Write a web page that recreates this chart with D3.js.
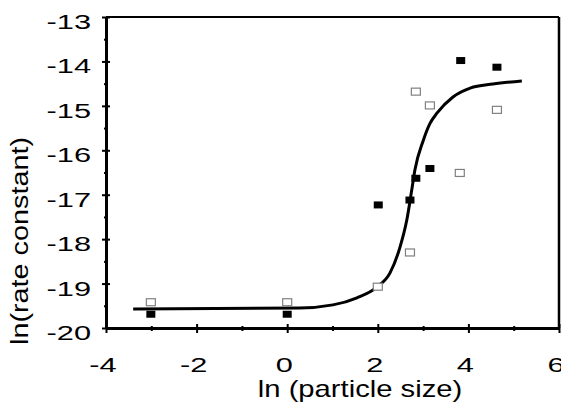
<!DOCTYPE html>
<html>
<head>
<meta charset="utf-8">
<script src="https://cdn.jsdelivr.net/npm/d3@7"></script>
<style>
  body { margin: 0; background: #fff; }
  svg { display: block; font-family: "Liberation Sans", Arial, sans-serif; }
</style>
</head>
<body>
<svg id="chart"></svg>
<script>
// measured series (ln particle size vs ln rate constant)
const filledX = [-3.01, 0.0, 2.01, 2.71, 2.84, 3.15, 3.83, 4.63];
const filledY = [-19.69, -19.69, -17.23, -17.12, -16.63, -16.41, -13.98, -14.13];
const openX = [-3.01, 0.0, 2.0, 2.71, 2.84, 3.15, 3.81, 4.63];
const openY = [-19.42, -19.42, -19.07, -18.30, -14.68, -14.99, -16.51, -15.09];

// fitted curve
const curveX = [-3.40, 0.28, 1.01, 1.54, 1.98, 2.27, 2.49, 2.64, 2.75, 2.82, 3.00, 3.15, 3.31, 3.66, 4.04, 4.54, 5.18];
const curveY = [-19.57, -19.55, -19.48, -19.32, -19.08, -18.76, -18.18, -17.57, -16.89, -16.44, -15.79, -15.40, -15.16, -14.80, -14.60, -14.51, -14.44];

const xTicks = [-4, -2, 0, 2, 4, 6];
const xMinor = [-3, -1, 1, 3, 5];
const yTicks = [-20, -19, -18, -17, -16, -15, -14, -13];
const yMinor = [-19.5, -18.5, -17.5, -16.5, -15.5, -14.5, -13.5];

const chartSize = { width: 561, height: 402 };
const margin = { left: 106, right: 2, top: 17, bottom: 74 };
const width = chartSize.width - margin.left - margin.right;
const height = chartSize.height - margin.top - margin.bottom;

const svg = d3.select('#chart')
    .attr('width', chartSize.width)
    .attr('height', chartSize.height);

const g = svg.append('g')
    .attr('transform', `translate(${margin.left},${margin.top})`);

const x = d3.scaleLinear().domain([-4, 6]).range([0, width]);
const y = d3.scaleLinear().domain([-20, -13]).range([height, 0]);

// frame: top and right
g.append('line').attr('x1', 0).attr('x2', width).attr('y1', 0).attr('y2', 0)
    .attr('stroke', '#000').attr('stroke-width', 2);
g.append('line').attr('x1', width).attr('x2', width).attr('y1', 0).attr('y2', height)
    .attr('stroke', '#000').attr('stroke-width', 2.5);

// minor ticks
g.append('g').attr('class', 'y-minor')
    .call(d3.axisLeft(y).tickValues(yMinor).tickSize(0).tickFormat(''))
    .call(a => a.select('.domain').remove())
    .selectAll('.tick line').attr('x1', -2).attr('x2', 2).attr('stroke-width', 2);
g.append('g').attr('class', 'x-minor')
    .attr('transform', `translate(0,${height})`)
    .call(d3.axisBottom(x).tickValues(xMinor).tickSize(0).tickFormat(''))
    .call(a => a.select('.domain').remove())
    .selectAll('.tick line').attr('y1', -2).attr('y2', 3).attr('stroke-width', 2);

// major axes
const yAxis = g.append('g').attr('class', 'y-axis')
    .call(d3.axisLeft(y).tickValues(yTicks).tickSize(0).tickFormat(d => String(d)));
yAxis.select('.domain').attr('stroke-width', 3);
yAxis.selectAll('.tick line').attr('x1', -4).attr('x2', 4).attr('stroke-width', 2);
yAxis.selectAll('.tick text')
    .attr('x', 0).attr('dy', null)
    .attr('font-size', 20.5).attr('fill', '#000')
    .attr('text-anchor', 'end')
    .attr('transform', 'translate(-15,11.5) scale(1.5,1)');

const xAxis = g.append('g').attr('class', 'x-axis')
    .attr('transform', `translate(0,${height})`)
    .call(d3.axisBottom(x).tickValues(xTicks).tickSize(0).tickFormat(d => String(d)));
xAxis.select('.domain').attr('stroke-width', 3);
xAxis.selectAll('.tick line').attr('y1', -4).attr('y2', 5).attr('stroke-width', 2);
xAxis.selectAll('.tick text')
    .attr('y', 0).attr('dy', null)
    .attr('font-size', 20.5).attr('fill', '#000')
    .attr('text-anchor', 'middle')
    .attr('transform', 'translate(-3.5,44) scale(1.5,1)');

// axis titles
svg.append('text')
    .attr('transform', 'translate(360,397) scale(1.27,1)')
    .attr('text-anchor', 'middle')
    .attr('font-size', 23)
    .text('ln (particle size)');

svg.append('text')
    .attr('transform', 'translate(27.5,241) rotate(-90) scale(1.2,1)')
    .attr('text-anchor', 'middle')
    .attr('font-size', 24)
    .text('ln(rate constant)');

// fitted curve
const curve = curveX.map((v, i) => ({ x: v, y: curveY[i] }));
g.append('path')
    .datum(curve)
    .attr('fill', 'none')
    .attr('stroke', '#000')
    .attr('stroke-width', 3)
    .attr('d', d3.line().x(d => x(d.x)).y(d => y(d.y)).curve(d3.curveMonotoneX));

// markers
const sq = { w: 9, h: 7 };
const openPts = openX.map((v, i) => ({ x: v, y: openY[i] }));
const filledPts = filledX.map((v, i) => ({ x: v, y: filledY[i] }));

g.selectAll('.open').data(openPts).enter().append('rect')
    .attr('class', 'open')
    .attr('x', d => x(d.x) - sq.w / 2)
    .attr('y', d => y(d.y) - sq.h / 2)
    .attr('width', sq.w).attr('height', sq.h)
    .attr('fill', '#fff').attr('stroke', '#808080').attr('stroke-width', 1.2);

g.selectAll('.filled').data(filledPts).enter().append('rect')
    .attr('class', 'filled')
    .attr('x', d => x(d.x) - sq.w / 2)
    .attr('y', d => y(d.y) - sq.h / 2)
    .attr('width', sq.w).attr('height', sq.h)
    .attr('fill', '#000');
</script>
</body>
</html>
